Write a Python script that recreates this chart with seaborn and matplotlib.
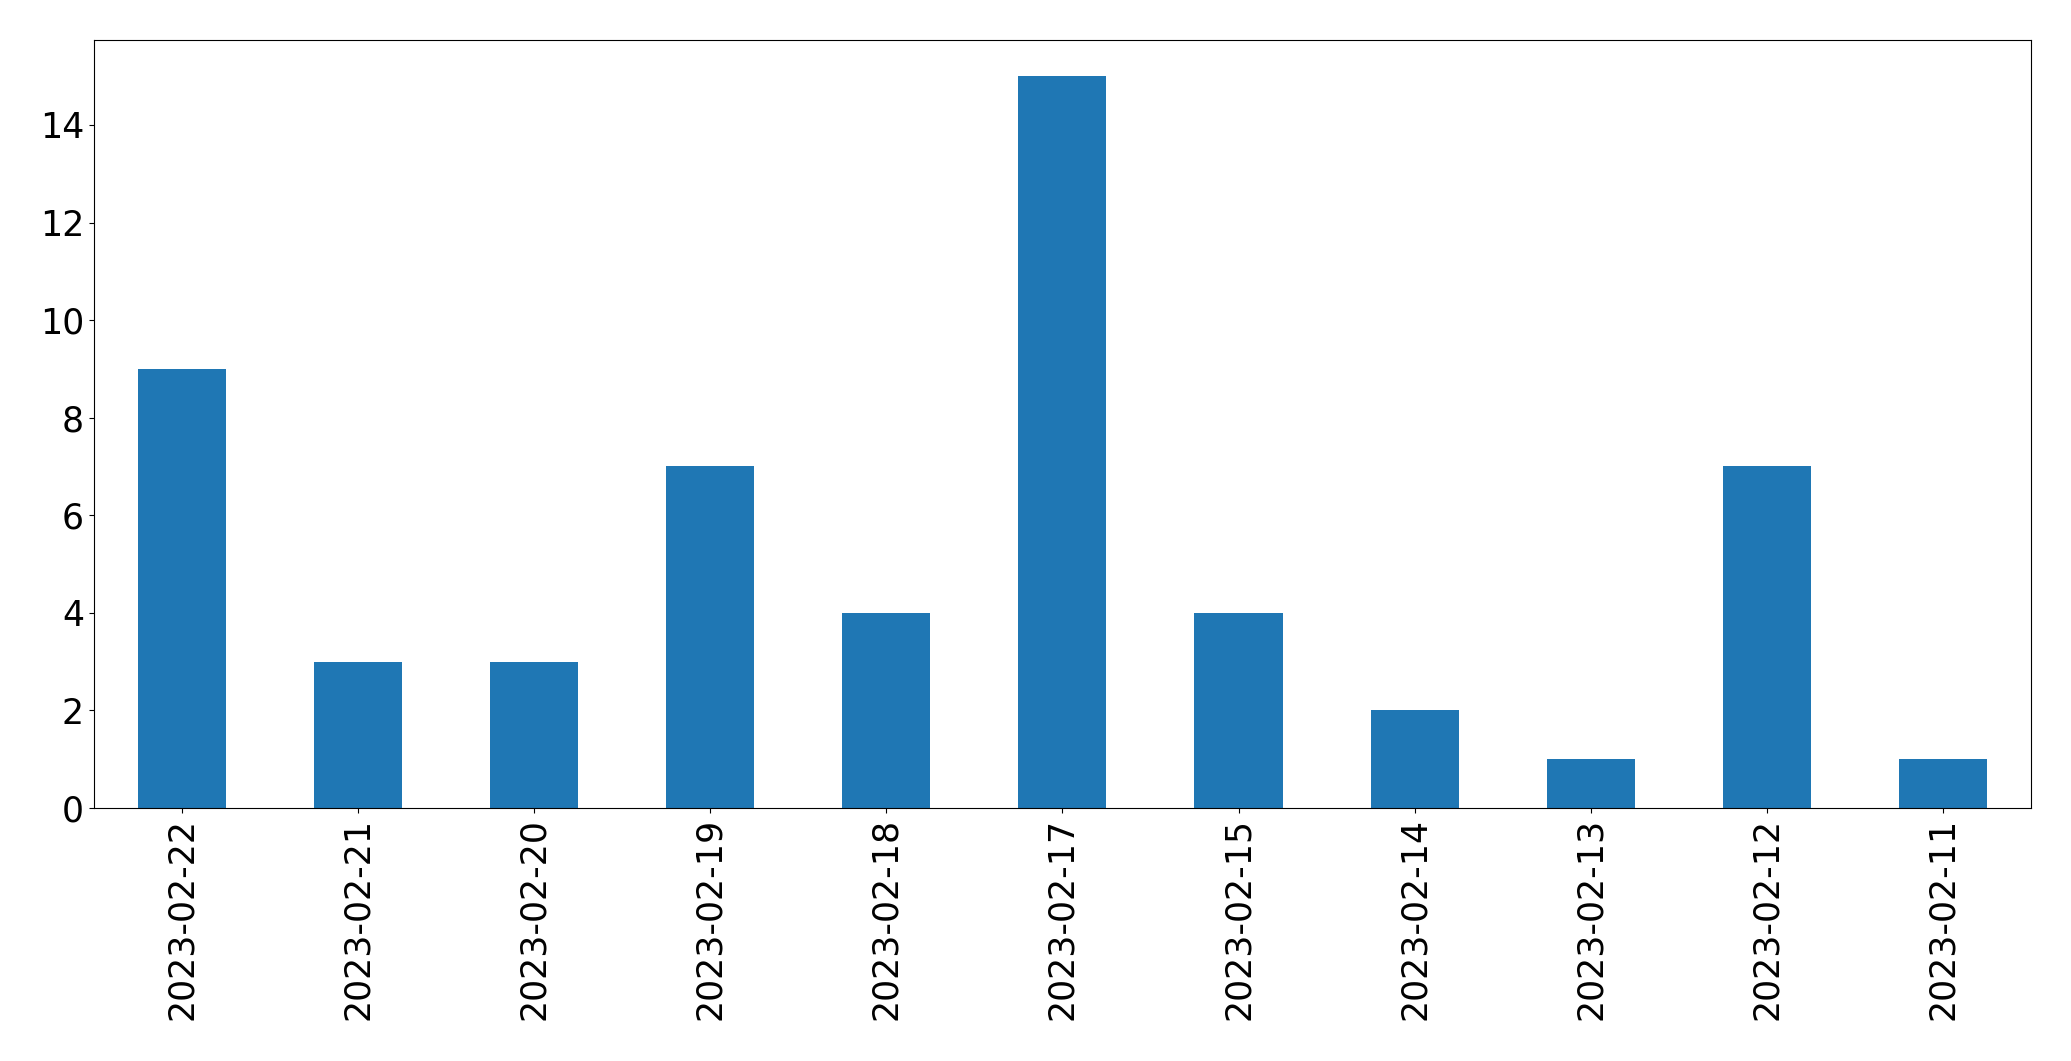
import matplotlib
matplotlib.use("Agg")
import matplotlib.pyplot as plt
import seaborn as sns
import pandas as pd

dates = ["2023-02-22", "2023-02-21", "2023-02-20", "2023-02-19", "2023-02-18",
         "2023-02-17", "2023-02-15", "2023-02-14", "2023-02-13", "2023-02-12",
         "2023-02-11"]
counts = [9, 3, 3, 7, 4, 15, 4, 2, 1, 7, 1]

df = pd.DataFrame({"date": dates, "count": counts})

fig = plt.figure(figsize=(20.71, 10.61), dpi=100)
ax = fig.add_axes([93.8 / 2071, 1 - 808 / 1061, (2031 - 93.8) / 2071, (808 - 39.6) / 1061])
sns.barplot(data=df, x="date", y="count", order=dates, color="#1f77b4",
            saturation=1, width=0.5, linewidth=0, ax=ax)
ax.set_xlabel("")
ax.set_ylabel("")
ax.tick_params(axis="both", labelsize=25)
ax.tick_params(axis="x", labelrotation=90)
ax.set_xlim(-0.5, len(dates) - 0.5)
fig.savefig("out.png", dpi=100)
